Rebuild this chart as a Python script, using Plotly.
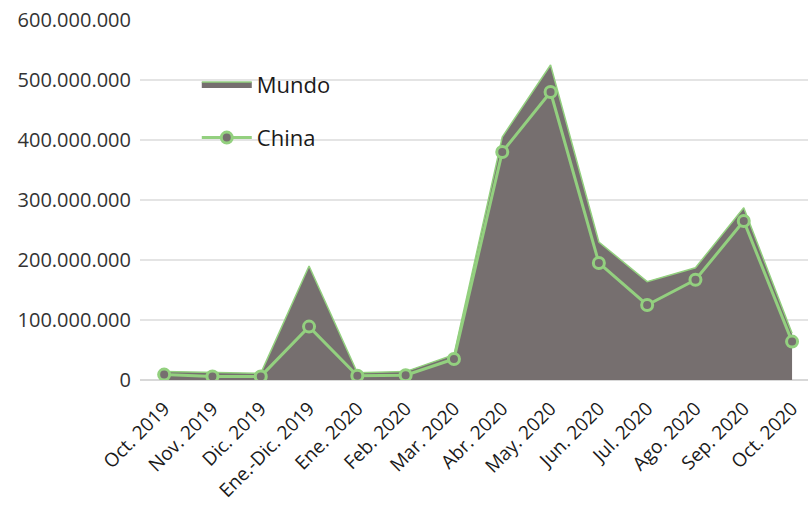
import plotly.graph_objects as go

categories = ["Oct. 2019", "Nov. 2019", "Dic. 2019", "Ene.-Dic. 2019", "Ene. 2020", "Feb. 2020",
              "Mar. 2020", "Abr. 2020", "May. 2020", "Jun. 2020", "Jul. 2020", "Ago. 2020",
              "Sep. 2020", "Oct. 2020"]
mundo = [14e6, 12e6, 11e6, 190e6, 12e6, 14e6, 42e6, 405e6, 525e6, 230e6, 164e6, 187e6, 287e6, 78e6]
china = [9e6, 6e6, 6e6, 89e6, 7e6, 8e6, 35e6, 380e6, 480e6, 195e6, 125e6, 167e6, 265e6, 64e6]
y_ticks = [0, 100e6, 200e6, 300e6, 400e6, 500e6, 600e6]

GREEN = "#93D07F"
GRAY = "#766F6F"
FONT = "Open Sans"

fig = go.Figure()
fig.add_trace(go.Scatter(
    x=categories, y=mundo, name="Mundo", mode="lines", fill="tozeroy",
    fillcolor=GRAY, line=dict(color=GREEN, width=1.5), legendgroup="a"))
fig.add_trace(go.Scatter(
    x=categories, y=china, name="China", mode="lines+markers",
    line=dict(color=GREEN, width=3),
    marker=dict(size=11, color=GRAY, line=dict(color=GREEN, width=3)),
    legendgroup="b"))

fig.update_layout(
    width=808, height=510,
    margin=dict(l=140, r=0, t=20, b=130, autoexpand=False),
    paper_bgcolor="white", plot_bgcolor="white",
    separators=",.",
    font=dict(family=FONT, size=19, color="#2a2a2a"),
    showlegend=True,
    legend=dict(x=0.085, y=0.88, xanchor="left", yanchor="top",
                font=dict(size=22, color="#1a1a1a"), bgcolor="rgba(0,0,0,0)",
                itemwidth=50,
                traceorder="grouped", tracegroupgap=22),
    xaxis=dict(type="category", range=[-0.5, 13.33], tickangle=-45,
               showgrid=False, showline=False, ticks="outside", ticklen=9,
               tickcolor="rgba(0,0,0,0)", automargin=False,
               tickfont=dict(size=19, color="#1a1a1a")),
    yaxis=dict(range=[0, 600e6], tickvals=y_ticks, tickformat=",d",
               showgrid=True, gridcolor="#E4E4E4", gridwidth=1.5,
               zeroline=True, zerolinecolor="#D8D8D8", zerolinewidth=1.5,
               ticks="", ticklen=0, automargin=False, ticklabelstandoff=8,
               tickfont=dict(size=20, color="#333333")),
)

fig.write_html("out.html", config={"displayModeBar": False},
               post_script="document.body.style.margin='0';document.body.style.overflow='hidden';")
